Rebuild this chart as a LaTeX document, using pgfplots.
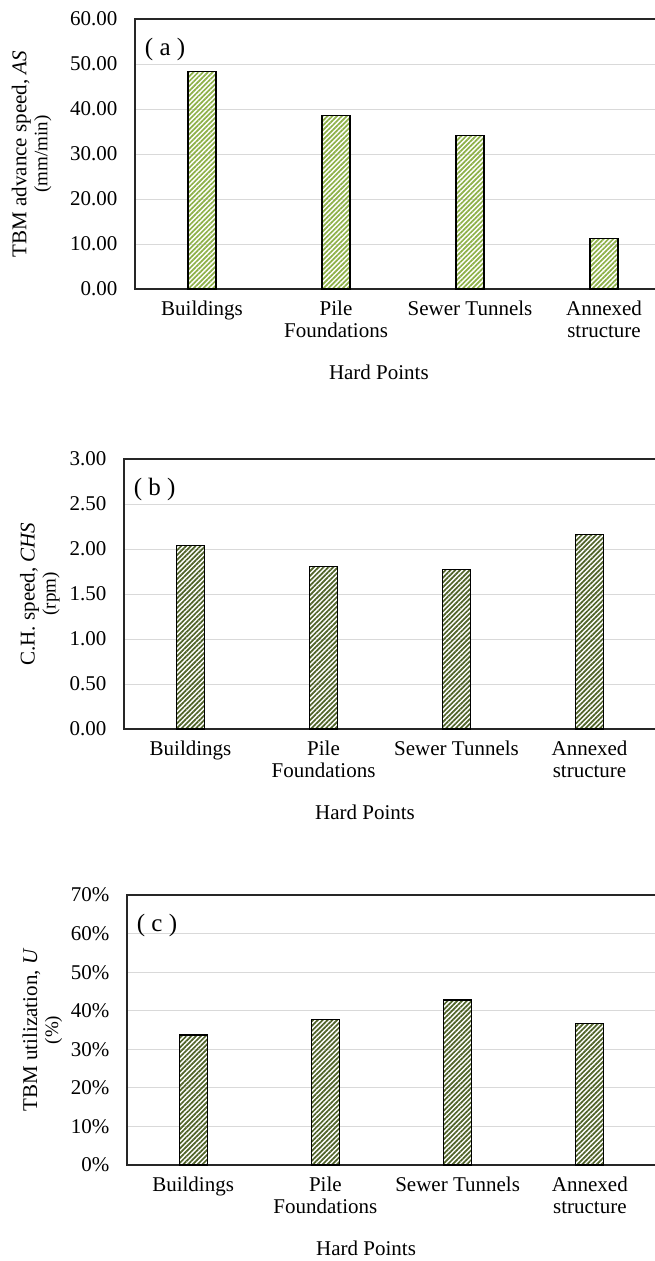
\documentclass[border=0pt]{standalone}
\usepackage{fontspec}
\setmainfont{Liberation Serif}
\usepackage{pgfplots}
\pgfplotsset{compat=1.18}
\usetikzlibrary{patterns.meta}
\definecolor{lgreen}{HTML}{8DB048}
\definecolor{dgreen}{HTML}{4F6228}
\definecolor{gridc}{HTML}{D9D9D9}
\definecolor{axc}{HTML}{262626}
\pgfplotsset{
  hp/.style={
    scale only axis,
    height=270pt,
    xmin=-0.5, xmax=3.5,
    xtick={0,1,2,3},
    xticklabels={Buildings, Pile\\Foundations, Sewer Tunnels, Annexed\\structure},
    xticklabel style={align=center, anchor=north, font=\fontsize{21}{22}\selectfont, yshift=-8pt},
    yticklabel style={font=\fontsize{21}{22}\selectfont, xshift=-14pt},
    /pgf/number format/assume math mode=true,
    major tick length=0pt,
    ymajorgrids,
    grid style={gridc, line width=1pt},
    axis line style={axc, line width=1.6pt},
    ymin=0,
    xlabel={Hard Points},
    xlabel style={font=\fontsize{21}{22}\selectfont, anchor=center},
    ylabel style={align=center, anchor=center, font=\fontsize{21}{20}\selectfont},
    clip=false,
  },
  hb/.style={ybar, bar width=28pt, draw=black, line width=1.2pt,
    pattern={Lines[angle=45,distance=3.4pt,line width=1.7pt]}, pattern color=#1},
}
\begin{document}
\begin{tikzpicture}
\useasboundingbox (0pt,0pt) rectangle (654pt,-1261pt);
% (a)
\begin{axis}[hp, at={(135pt,-289pt)}, anchor=south west, width=536pt,
  ymax=60, ytick={0,10,...,60},
  yticklabel style={/pgf/number format/.cd, fixed, fixed zerofill, precision=2},
  xlabel style={at={(axis description cs:0.455,-0.31)}},
  ylabel={TBM advance speed, \textit{AS}\\[1pt]{\fontsize{19}{19}\selectfont (mm/min)}},
  ylabel style={at={(axis description cs:-0.193,0.5)}},
]
\addplot[hb=lgreen] coordinates {(0,48.3) (1,38.5) (2,34.2) (3,11.3)};
\node[anchor=west, font=\fontsize{25}{26}\selectfont] at (axis description cs:0.012,0.887) {( a )};
\end{axis}
% (b)
\begin{axis}[hp, at={(124pt,-729pt)}, anchor=south west, width=532pt,
  ymax=3, ytick={0,0.5,...,3},
  yticklabel style={/pgf/number format/.cd, fixed, fixed zerofill, precision=2},
  xlabel style={at={(axis description cs:0.453,-0.31)}},
  ylabel={C.H. speed, \textit{CHS}\\[1pt]{\fontsize{19}{19}\selectfont (rpm)}},
  ylabel style={at={(axis description cs:-0.158,0.5)}},
]
\addplot[hb=dgreen] coordinates {(0,2.035) (1,1.805) (2,1.775) (3,2.165)};
\node[anchor=west, font=\fontsize{25}{26}\selectfont] at (axis description cs:0.012,0.887) {( b )};
\end{axis}
% (c)
\begin{axis}[hp, at={(127pt,-1165pt)}, anchor=south west, width=529pt,
  ymax=70, ytick={0,10,...,70},
  yticklabel={\pgfmathprintnumber{\tick}\%},
  xlabel style={at={(axis description cs:0.452,-0.31)}},
  ylabel={TBM utilization, \textit{U}\\[1pt]{\fontsize{19}{19}\selectfont (\%)}},
  ylabel style={at={(axis description cs:-0.16,0.5)}},
]
\addplot[hb=dgreen] coordinates {(0,33.7) (1,37.8) (2,42.8) (3,36.7)};
\node[anchor=west, font=\fontsize{25}{26}\selectfont] at (axis description cs:0.012,0.887) {( c )};
\end{axis}
\end{tikzpicture}
\end{document}
